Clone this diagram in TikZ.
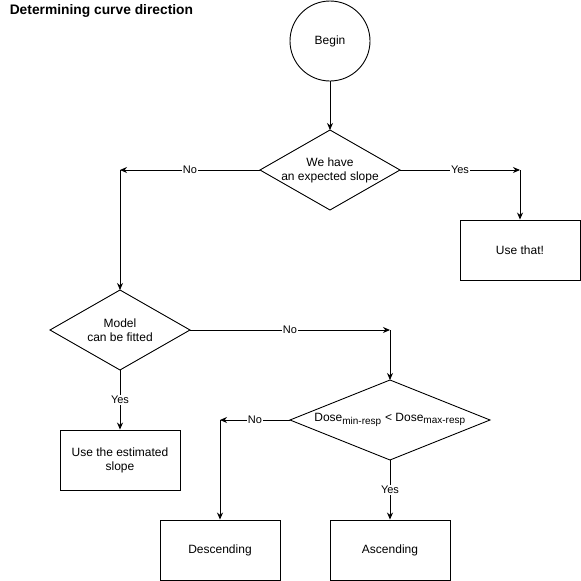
\documentclass[tikz,border=0pt]{standalone}
\usepackage{fontspec}
\setmainfont{Liberation Sans}
\usetikzlibrary{shapes.geometric,arrows.meta}
\begin{document}
\begin{tikzpicture}[x=1pt,y=-1pt,
  line width=0.9pt,
  txt/.style={font=\fontsize{12}{14}\selectfont, align=center},
  box/.style={draw, rectangle, txt, minimum width=120pt, minimum height=60pt, inner sep=0pt},
  flow/.style={-{Stealth[length=7pt,width=6pt]}},
  lbl/.style={fill=white, inner sep=1pt, font=\fontsize{11}{13}\selectfont}
]
\useasboundingbox (0,0) rectangle (581,581);

\node[anchor=west, font=\bfseries\fontsize{13.8}{16}\selectfont] (title) at (6,11) {Determining curve direction};

\node[draw, circle, minimum size=80pt, inner sep=0pt, txt] (begin) at (330,41) {Begin};

\node[txt, inner sep=0pt] (expected) at (330,170) {We have\\an expected slope};
\node[box] (usethat) at (520,250) {Use that!};
\node[txt, inner sep=0pt] (fitted) at (120,330) {Model\\can be fitted};
\node[box] (estimated) at (120,460) {Use the estimated\\slope};
\node[txt, inner sep=0pt] (dose) at (390,420) {Dose\textsubscript{\fontsize{10}{12}\selectfont min-resp} < Dose\textsubscript{\fontsize{10}{12}\selectfont max-resp}};
\node[box] (desc) at (220,550) {Descending};
\node[box] (asc) at (390,550) {Ascending};

% decision outlines drawn as explicit diamonds
\coordinate (e-t) at (330,130); \coordinate (e-b) at (330,210);
\coordinate (e-l) at (260,170); \coordinate (e-r) at (400,170);
\coordinate (f-t) at (120,290); \coordinate (f-b) at (120,370);
\coordinate (f-l) at (50,330);  \coordinate (f-r) at (190,330);
\coordinate (d-t) at (390,380); \coordinate (d-b) at (390,460);
\coordinate (d-l) at (290,420); \coordinate (d-r) at (490,420);
\draw (e-t) -- (e-r) -- (e-b) -- (e-l) -- cycle;
\draw (f-t) -- (f-r) -- (f-b) -- (f-l) -- cycle;
\draw (d-t) -- (d-r) -- (d-b) -- (d-l) -- cycle;

% bend points
\coordinate (noA) at (120,170);
\coordinate (yesA) at (520,170);
\coordinate (noB) at (390,330);
\coordinate (noC) at (220,420);

\draw[flow] (begin) -- (e-t);

\draw[flow] (e-l) -- node[lbl] {No} (noA);
\draw[flow] (noA) -- (f-t);
\draw[flow] (e-r) -- node[lbl] {Yes} (yesA);
\draw[flow] (yesA) -- (usethat);

\draw[flow] (f-r) -- node[lbl] {No} (noB);
\draw[flow] (noB) -- (d-t);
\draw[flow] (f-b) -- node[lbl] {Yes} (estimated);

\draw[flow] (d-l) -- node[lbl] {No} (noC);
\draw[flow] (noC) -- (desc);
\draw[flow] (d-b) -- node[lbl] {Yes} (asc);
\end{tikzpicture}
\end{document}
